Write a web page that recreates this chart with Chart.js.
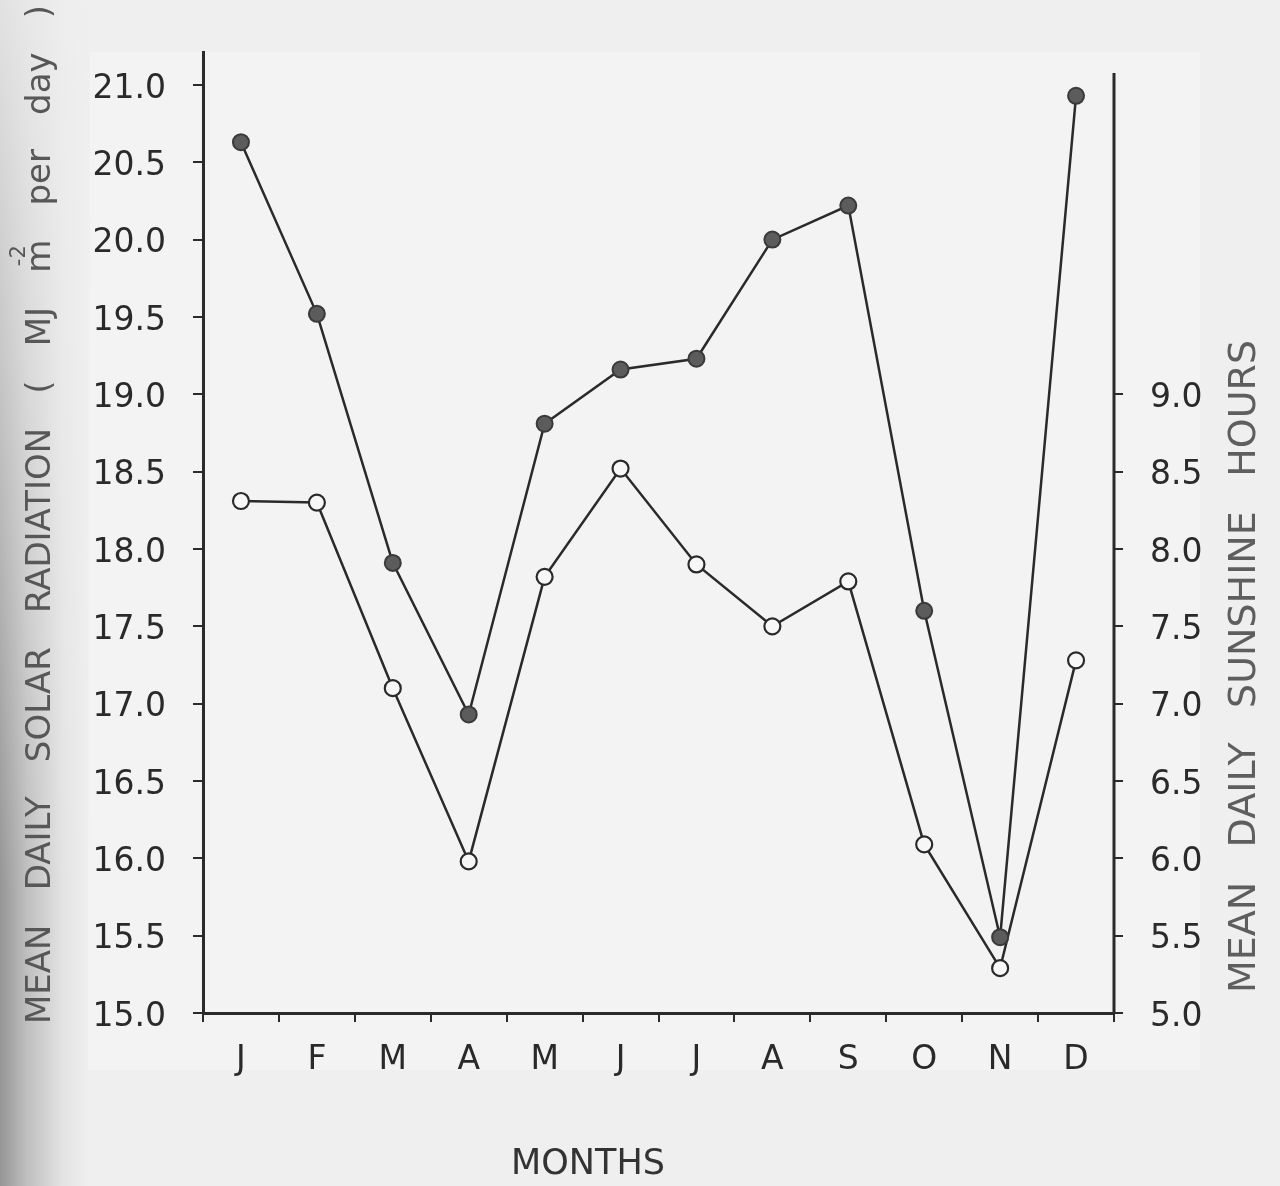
<!DOCTYPE html>
<html>
<head>
<meta charset="utf-8">
<script src="https://cdn.jsdelivr.net/npm/chart.js@4/dist/chart.umd.min.js"></script>
<style>
  html, body { margin: 0; padding: 0; background: #f0f0f0; }
  #wrap { width: 1280px; height: 1186px; }
</style>
</head>
<body>
<div id="wrap"><canvas id="chart" width="1280" height="1186"></canvas></div>
<script>
// Month initials along the x axis
const months = ['J', 'F', 'M', 'A', 'M', 'J', 'J', 'A', 'S', 'O', 'N', 'D'];

// Mean daily solar radiation, MJ m^-2 per day (left axis)
const solarRadiation = [20.63, 19.52, 17.91, 16.93, 18.81, 19.16, 19.23, 20.00, 20.22, 17.60, 15.49, 20.93];

// Mean daily sunshine hours (right axis)
const sunshineHours = [8.31, 8.30, 7.10, 5.98, 7.82, 8.52, 7.90, 7.50, 7.79, 6.09, 5.29, 7.28];

// Tick values shown on each vertical axis
const solarTicks = [15.0, 15.5, 16.0, 16.5, 17.0, 17.5, 18.0, 18.5, 19.0, 19.5, 20.0, 20.5, 21.0];
const sunshineTicks = [5.0, 5.5, 6.0, 6.5, 7.0, 7.5, 8.0, 8.5, 9.0];

// Axis titles
const leftTitleWords = ['MEAN', 'DAILY', 'SOLAR', 'RADIATION', '(', 'MJ', {t: 'm', sup: '-2'}, 'per', 'day', ')'];
const rightTitleWords = ['MEAN', 'DAILY', 'SUNSHINE', 'HOURS'];
const xTitle = 'MONTHS';

const INK = '#2a2a2a';
const PAPER = '#efefef';
const TICK_FONT = {family: 'DejaVu Sans', size: 33};

// Paper tone, the slightly lighter print area and the shadow along the left edge
const paperPlugin = {
  id: 'paper',
  beforeDraw(chart) {
    const ctx = chart.ctx;
    const W = chart.width, H = chart.height;
    ctx.save();
    ctx.fillStyle = PAPER;
    ctx.fillRect(0, 0, W, H);
    ctx.fillStyle = '#f3f3f3';
    ctx.fillRect(88, 52, 1112, 1018);

    // shadow: dark at the very edge, fading to the right
    const hg = ctx.createLinearGradient(0, 0, 90, 0);
    hg.addColorStop(0, 'rgba(90,90,90,0.60)');
    hg.addColorStop(0.3, 'rgba(90,90,90,0.32)');
    hg.addColorStop(0.7, 'rgba(90,90,90,0.08)');
    hg.addColorStop(1, 'rgba(90,90,90,0)');
    ctx.fillStyle = hg;
    ctx.fillRect(0, 0, 90, H);

    // and fading out towards the top of the sheet
    const vg = ctx.createLinearGradient(0, 0, 0, H);
    vg.addColorStop(0, 'rgba(239,239,239,0.85)');
    vg.addColorStop(0.3, 'rgba(239,239,239,0.55)');
    vg.addColorStop(0.75, 'rgba(239,239,239,0)');
    vg.addColorStop(1, 'rgba(239,239,239,0)');
    ctx.fillStyle = vg;
    ctx.fillRect(0, 0, 90, H);
    ctx.restore();
  }
};

// Rotated title drawn word by word, spread evenly between two heights
function drawVerticalWords(ctx, words, cx, yBottom, yTop, size, color) {
  ctx.save();
  ctx.translate(cx, yBottom);
  ctx.rotate(-Math.PI / 2);
  ctx.fillStyle = color;
  ctx.textBaseline = 'middle';
  ctx.textAlign = 'left';
  const font = size + 'px "DejaVu Sans"';
  const supFont = Math.round(size * 0.62) + 'px "DejaVu Sans"';
  ctx.font = font;
  const widths = words.map(w => ctx.measureText(typeof w === 'string' ? w : w.t).width);
  const total = widths.reduce((a, b) => a + b, 0);
  const gap = ((yBottom - yTop) - total) / (words.length - 1);
  let x = 0;
  words.forEach((w, i) => {
    const txt = typeof w === 'string' ? w : w.t;
    ctx.font = font;
    ctx.fillText(txt, x, 0);
    if (typeof w !== 'string' && w.sup) {
      ctx.font = supFont;
      ctx.fillText(w.sup, x + widths[i] * 0.2, -size * 0.62);
    }
    x += widths[i] + gap;
  });
  ctx.restore();
}

const titlesPlugin = {
  id: 'titles',
  afterDraw(chart) {
    const ctx = chart.ctx;
    const area = chart.chartArea;
    // right-hand axis line stops a little short of the left one
    ctx.save();
    ctx.strokeStyle = INK;
    ctx.lineWidth = 3;
    ctx.beginPath();
    ctx.moveTo(area.right, area.bottom + 1);
    ctx.lineTo(area.right, area.top + 21);
    ctx.stroke();
    ctx.restore();

    drawVerticalWords(ctx, leftTitleWords, 41, 1024, 5, 34, '#575757');
    drawVerticalWords(ctx, rightTitleWords, 1245, 993, 340, 38, '#5e5e5e');

    ctx.save();
    ctx.fillStyle = '#333333';
    ctx.font = '35px "DejaVu Sans"';
    ctx.textAlign = 'center';
    ctx.textBaseline = 'middle';
    ctx.fillText(xTitle, 588, 1165);
    ctx.restore();
  }
};

new Chart(document.getElementById('chart'), {
  type: 'line',
  data: {
    labels: months,
    datasets: [
      {
        label: 'Solar Radiation',
        data: solarRadiation,
        yAxisID: 'y',
        borderColor: INK,
        borderWidth: 2.5,
        pointRadius: 8,
        pointBackgroundColor: '#5c5c5c',
        pointBorderColor: '#3a3a3a',
        pointBorderWidth: 2,
        tension: 0,
        fill: false
      },
      {
        label: 'Sunshine Hours',
        data: sunshineHours,
        yAxisID: 'y1',
        borderColor: INK,
        borderWidth: 2.5,
        pointRadius: 8,
        pointBackgroundColor: '#f7f7f7',
        pointBorderColor: INK,
        pointBorderWidth: 2.2,
        tension: 0,
        fill: false
      }
    ]
  },
  options: {
    responsive: false,
    animation: false,
    layout: {padding: {top: 52, left: 0, right: 0, bottom: 0}},
    plugins: {legend: {display: false}, tooltip: {enabled: false}},
    scales: {
      x: {
        offset: true,
        grid: {offset: true, drawOnChartArea: false, drawTicks: true, tickLength: 9, color: INK, lineWidth: 2},
        border: {display: true, color: INK, width: 3},
        ticks: {color: INK, font: TICK_FONT, padding: 19, maxRotation: 0, autoSkip: false},
        afterFit(scale) { scale.height = 173; }
      },
      y: {
        position: 'left',
        min: 15,
        max: 21.213,
        afterBuildTicks(scale) { scale.ticks = solarTicks.map(v => ({value: v})); },
        grid: {drawOnChartArea: false, drawTicks: true, tickLength: 10, color: INK, lineWidth: 2},
        border: {display: true, color: INK, width: 3},
        ticks: {color: INK, font: TICK_FONT, padding: 27, labelOffset: 4, callback: v => Number(v).toFixed(1)},
        afterFit(scale) { scale.width = 203; }
      },
      y1: {
        position: 'right',
        min: 5,
        max: 11.213,
        afterBuildTicks(scale) { scale.ticks = sunshineTicks.map(v => ({value: v})); },
        grid: {drawOnChartArea: false, drawTicks: true, tickLength: 9, color: INK, lineWidth: 2},
        border: {display: false},
        ticks: {color: INK, font: TICK_FONT, padding: 27, labelOffset: 4, callback: v => Number(v).toFixed(1)},
        afterFit(scale) { scale.width = 166; }
      }
    }
  },
  plugins: [paperPlugin, titlesPlugin]
});
</script>
</body>
</html>
